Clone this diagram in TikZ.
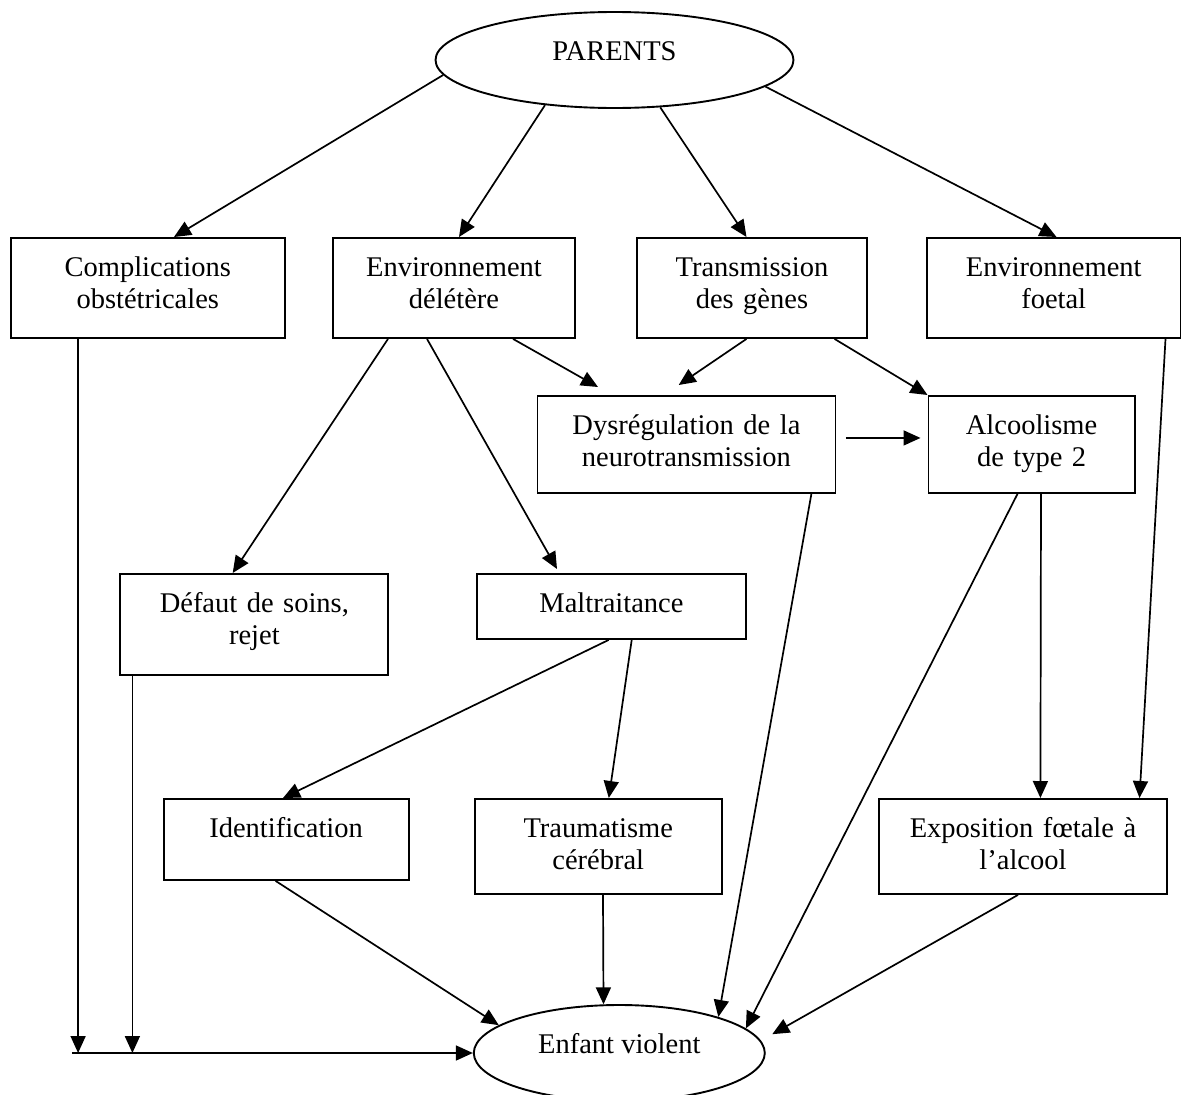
\documentclass[tikz,border=0pt]{standalone}
\usepackage{fontspec}
\setmainfont{Liberation Serif}
\usetikzlibrary{arrows.meta,shapes.geometric}
\begin{document}
\begin{tikzpicture}[x=1pt,y=-1pt,
  every node/.style={font=\fontsize{28.5}{32}\selectfont},
  box/.style={draw,line width=1.9pt,rectangle,inner sep=0pt,anchor=north west,align=center,text height=39pt},
  oval/.style={draw,line width=1.9pt,ellipse,inner sep=0pt,text height=10pt,text depth=10pt},
  arr/.style={line width=1.7pt,-{Triangle[length=17pt,width=15pt]}},
  ln/.style={line width=1.7pt}]
\useasboundingbox (0,0) rectangle (1181,1095);
% ellipses
\node[oval,minimum width=358pt,minimum height=96pt] (parents) at (614.5,60) {PARENTS};
\node[oval,minimum width=291pt,minimum height=96pt] (enfant) at (619.3,1053) {Enfant violent};
% row 1
\node[box,minimum width=274.4pt,text width=274.4pt,minimum height=100pt,text depth=61pt] (comp) at (9.6,237) {Complications\\obstétricales};
\node[box,minimum width=242pt,text width=242pt,minimum height=100pt,text depth=61pt] (env) at (332,237) {Environnement\\délétère};
\node[box,minimum width=230pt,text width=230pt,minimum height=100pt,text depth=61pt] (trans) at (636,237) {Transmission\\des gènes};
\node[box,minimum width=253.5pt,text width=253.5pt,minimum height=100pt,text depth=61pt] (envf) at (926,237) {Environnement\\foetal};
% row 2
\node[box,minimum width=298pt,text width=298pt,minimum height=97pt,text depth=58pt] (dys) at (536.5,395) {Dysrégulation de la\\neurotransmission};
\node[box,minimum width=206.3pt,text width=206.3pt,minimum height=97pt,text depth=58pt] (alc) at (927.5,395) {Alcoolisme\\de type 2};
% row 3
\node[box,minimum width=268pt,text width=268pt,minimum height=101pt,text depth=62pt] (def) at (119.4,573) {Défaut de soins,\\rejet};
\node[box,minimum width=269.6pt,text width=269.6pt,minimum height=65pt,text depth=26pt] (malt) at (475.7,573) {Maltraitance};
% row 4
\node[box,minimum width=245pt,text width=245pt,minimum height=81pt,text depth=42pt] (ident) at (162.6,798) {Identification};
\node[box,minimum width=247pt,text width=247pt,minimum height=95pt,text depth=56pt] (trauma) at (473.8,798) {Traumatisme\\cérébral};
\node[box,minimum width=288.6pt,text width=288.6pt,minimum height=95pt,text depth=56pt] (expo) at (877.7,798) {Exposition fœtale à\\l’alcool};
% arrows from PARENTS
\draw[arr] (parents.185) -- ([xshift=164.4pt]comp.north west);
\draw[arr] (parents.213) -- ([xshift=127pt]env.north west);
\draw[arr] (parents.314) -- ([xshift=110.5pt]trans.north west);
\draw[arr] (parents.350) -- ([xshift=130.5pt]envf.north west);
% from Environnement deletere
\draw[arr] ([xshift=56pt]env.south west) -- ([xshift=113.3pt]def.north west);
\draw[arr] ([xshift=95pt]env.south west) -- ([xshift=81.3pt,yshift=4pt]malt.north west);
\draw[arr] ([xshift=181pt]env.south west) -- ([xshift=61.5pt,yshift=8pt]dys.north west);
% from Transmission
\draw[arr] ([xshift=110.5pt]trans.south west) -- ([xshift=142.2pt,yshift=10pt]dys.north west);
\draw[arr] ([xshift=198.5pt]trans.south west) -- (alc.north west);
% Dys -> Alc
\draw[arr] ([xshift=9.5pt,yshift=6.5pt]dys.east) -- ([xshift=-7pt,yshift=6.5pt]alc.west);
% to Enfant
\draw[arr] ([xshift=-25pt]dys.south east) -- (enfant.20);
\draw[arr] ([xshift=90pt]alc.south west) -- (enfant.11);
\draw[arr] ([xshift=113.5pt]alc.south west) -- ([xshift=162.7pt]expo.north west);
\draw[arr] ([xshift=239.5pt]envf.south west) -- ([xshift=261.8pt]expo.north west);
\draw[arr] ([xshift=133pt]malt.south west) -- ([xshift=120.4pt]ident.north west);
\draw[arr] ([xshift=156pt]malt.south west) -- ([xshift=135pt]trauma.north west);
\draw[arr] ([xshift=113pt]ident.south west) -- (enfant.167);
\draw[arr] ([xshift=129.2pt]trauma.south west) -- (enfant.108.5);
\draw[arr,shorten >=13pt] ([xshift=140.3pt]expo.south west) -- (enfant.5);
% left collector
\coordinate (c1) at ([xshift=68.5pt]comp.south west);
\coordinate (c2) at ([xshift=13pt]def.south west);
\coordinate (hl) at ([xshift=-401pt]enfant.west);
\draw[arr] (c1) -- (c1 |- enfant.west);
\draw[arr] (c2) -- (c2 |- enfant.west);
\draw[arr] (hl) -- (enfant.west);
\end{tikzpicture}
\end{document}
